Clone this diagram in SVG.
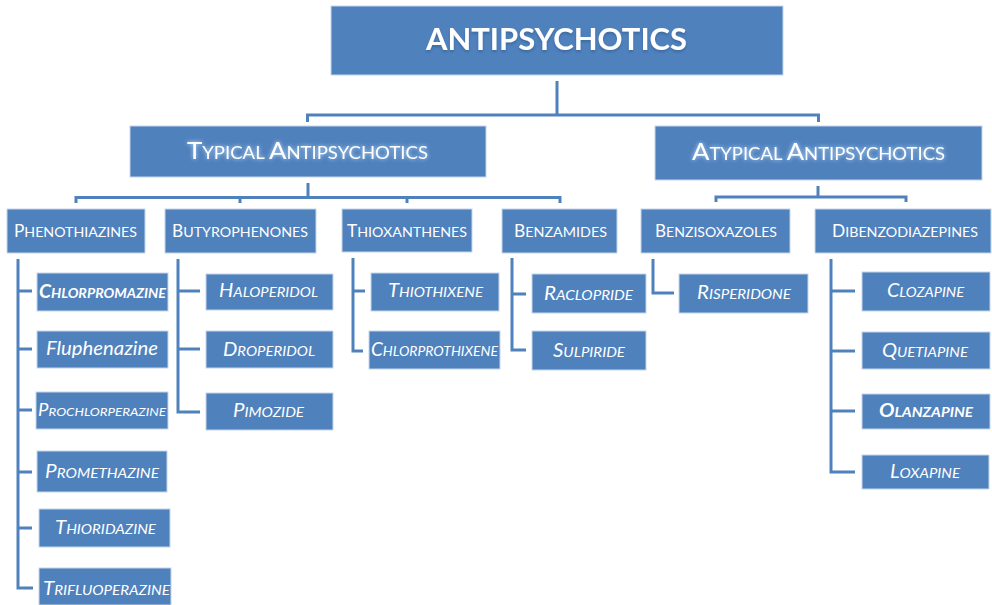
<svg xmlns="http://www.w3.org/2000/svg" width="992" height="605" viewBox="0 0 992 605">
<defs>
<style>
.box{fill:#4F81BD;stroke:#c5d6ec;stroke-width:1}
.ln{fill:none;stroke:#4F81BD;stroke-width:3;stroke-linecap:butt;stroke-linejoin:miter}
text{font-family:Lato,"Open Sans","Liberation Sans",sans-serif;fill:#ffffff}
.t0{font-size:31px;font-weight:bold}
.t1{font-size:17px}
.t1 .c{font-size:23.7px}
.t2{font-size:14px}
.t2 .c{font-size:17px}
.t3{font-size:13.8px;font-style:italic}
.t3 .c{font-size:18.7px}
.b{font-weight:bold}
</style>
<filter id="glow" x="-10%" y="-40%" width="120%" height="180%">
<feGaussianBlur in="SourceAlpha" stdDeviation="2.2" result="bl"/>
<feFlood flood-color="#cfe8ff" flood-opacity="0.9"/>
<feComposite in2="bl" operator="in" result="g"/>
<feMerge><feMergeNode in="g"/><feMergeNode in="SourceGraphic"/></feMerge>
</filter>
<filter id="soft" x="-5%" y="-20%" width="110%" height="160%">
<feGaussianBlur in="SourceAlpha" stdDeviation="1.2" result="bl"/>
<feOffset in="bl" dx="0" dy="1.5" result="o"/>
<feFlood flood-color="#1f3f66" flood-opacity="0.35"/>
<feComposite in2="o" operator="in" result="s"/>
<feMerge><feMergeNode in="s"/><feMergeNode in="SourceGraphic"/></feMerge>
</filter>
</defs>

<g id="connectors">
<path class="ln" d="M557,81 V115 M307.5,122 V115 H818.5 V122"/>
<path class="ln" d="M308,183 V197.5 M76,203 V197.5 H560 V203 M240,197.5 V203 M407,197.5 V203"/>
<path class="ln" d="M818,186 V197 M716,202 V197 H906 V202"/>
<path class="ln" d="M18,259 V588 H33 M18,291 H32 M18,349 H32 M18,410 H32 M18,472 H32 M18,528 H32"/>
<path class="ln" d="M178,259 V412 H200 M178,291 H200 M178,349 H200"/>
<path class="ln" d="M353,258 V351 H363 M353,291 H365"/>
<path class="ln" d="M512,258 V350 H526 M512,294 H526"/>
<path class="ln" d="M653,259 V293 H674"/>
<path class="ln" d="M831,259 V472 H855 M831,291 H855 M831,351 H855 M831,411 H855"/>
</g>

<g id="antipsychotics">
<rect class="box" x="331" y="6" width="452" height="69"/>
<text class="t0" x="426" y="50" textLength="261" lengthAdjust="spacingAndGlyphs" filter="url(#soft)">ANTIPSYCHOTICS</text>
</g>

<g id="typical">
<rect class="box" x="130" y="126" width="356" height="51"/>
<text class="t1" x="187" y="159" textLength="241" lengthAdjust="spacingAndGlyphs" filter="url(#glow)"><tspan class="c">T</tspan>YPICAL <tspan class="c">A</tspan>NTIPSYCHOTICS</text>
</g>

<g id="atypical">
<rect class="box" x="655" y="126" width="327" height="54"/>
<text class="t1" x="692" y="160" textLength="253" lengthAdjust="spacingAndGlyphs" filter="url(#glow)"><tspan class="c">A</tspan>TYPICAL <tspan class="c">A</tspan>NTIPSYCHOTICS</text>
</g>

<g id="phenothiazines">
<rect class="box" x="7" y="209" width="138" height="44"/>
<text class="t2" x="14" y="237" textLength="123" lengthAdjust="spacingAndGlyphs"><tspan class="c">P</tspan>HENOTHIAZINES</text>
</g>
<g id="butyrophenones">
<rect class="box" x="165" y="209" width="151" height="44"/>
<text class="t2" x="172" y="236.5" textLength="136" lengthAdjust="spacingAndGlyphs"><tspan class="c">B</tspan>UTYROPHENONES</text>
</g>
<g id="thioxanthenes">
<rect class="box" x="342" y="209" width="130" height="43"/>
<text class="t2" x="347" y="236.5" textLength="120" lengthAdjust="spacingAndGlyphs"><tspan class="c">T</tspan>HIOXANTHENES</text>
</g>
<g id="benzamides">
<rect class="box" x="502" y="209" width="115" height="44"/>
<text class="t2" x="514" y="237" textLength="93" lengthAdjust="spacingAndGlyphs"><tspan class="c">B</tspan>ENZAMIDES</text>
</g>
<g id="benzisoxazoles">
<rect class="box" x="641" y="209" width="149" height="44"/>
<text class="t2" x="655" y="237" textLength="122" lengthAdjust="spacingAndGlyphs"><tspan class="c">B</tspan>ENZISOXAZOLES</text>
</g>
<g id="dibenzodiazepines">
<rect class="box" x="815" y="209" width="176" height="44"/>
<text class="t2" x="832" y="237" textLength="146" lengthAdjust="spacingAndGlyphs"><tspan class="c">D</tspan>IBENZODIAZEPINES</text>
</g>

<g id="chlorpromazine">
<rect class="box" x="37" y="273" width="131" height="38"/>
<text class="t3 b" x="39" y="298" textLength="127" lengthAdjust="spacingAndGlyphs"><tspan class="c">C</tspan>HLORPROMAZINE</text>
</g>
<g id="fluphenazine">
<rect class="box" x="37" y="331" width="131" height="37"/>
<text class="t3" x="46" y="355" style="font-size:18.7px" textLength="112" lengthAdjust="spacingAndGlyphs">Fluphenazine</text>
</g>
<g id="prochlorperazine">
<rect class="box" x="36" y="392" width="132" height="37"/>
<text class="t3" x="38" y="416" style="font-size:12px" textLength="128" lengthAdjust="spacingAndGlyphs"><tspan class="c" style="font-size:16.7px">P</tspan>ROCHLORPERAZINE</text>
</g>
<g id="promethazine">
<rect class="box" x="37" y="451" width="130" height="41"/>
<text class="t3" x="45" y="478" textLength="114" lengthAdjust="spacingAndGlyphs"><tspan class="c">P</tspan>ROMETHAZINE</text>
</g>
<g id="thioridazine">
<rect class="box" x="39" y="509" width="131" height="38"/>
<text class="t3" x="55" y="534" textLength="101" lengthAdjust="spacingAndGlyphs"><tspan class="c">T</tspan>HIORIDAZINE</text>
</g>
<g id="trifluoperazine">
<rect class="box" x="39" y="568" width="132" height="37"/>
<text class="t3" x="43" y="595" textLength="127" lengthAdjust="spacingAndGlyphs"><tspan class="c">T</tspan>RIFLUOPERAZINE</text>
</g>

<g id="haloperidol">
<rect class="box" x="206" y="274" width="127" height="36"/>
<text class="t3" x="219" y="297" textLength="99" lengthAdjust="spacingAndGlyphs"><tspan class="c">H</tspan>ALOPERIDOL</text>
</g>
<g id="droperidol">
<rect class="box" x="206" y="331" width="127" height="37"/>
<text class="t3" x="223" y="356" textLength="92" lengthAdjust="spacingAndGlyphs"><tspan class="c">D</tspan>ROPERIDOL</text>
</g>
<g id="pimozide">
<rect class="box" x="206" y="393" width="127" height="37"/>
<text class="t3" x="233" y="417" textLength="71" lengthAdjust="spacingAndGlyphs"><tspan class="c">P</tspan>IMOZIDE</text>
</g>

<g id="thiothixene">
<rect class="box" x="371" y="273" width="128" height="38"/>
<text class="t3" x="388" y="297" textLength="95" lengthAdjust="spacingAndGlyphs"><tspan class="c">T</tspan>HIOTHIXENE</text>
</g>
<g id="chlorprothixene">
<rect class="box" x="369" y="331" width="131" height="38"/>
<text class="t3" x="371" y="356" textLength="127" lengthAdjust="spacingAndGlyphs"><tspan class="c">C</tspan>HLORPROTHIXENE</text>
</g>

<g id="raclopride">
<rect class="box" x="532" y="274" width="114" height="39"/>
<text class="t3" x="544" y="300" textLength="89" lengthAdjust="spacingAndGlyphs"><tspan class="c">R</tspan>ACLOPRIDE</text>
</g>
<g id="sulpiride">
<rect class="box" x="532" y="331" width="114" height="39"/>
<text class="t3" x="553" y="357" textLength="72" lengthAdjust="spacingAndGlyphs"><tspan class="c">S</tspan>ULPIRIDE</text>
</g>

<g id="risperidone">
<rect class="box" x="679" y="274" width="129" height="39"/>
<text class="t3" x="697" y="299" textLength="94" lengthAdjust="spacingAndGlyphs"><tspan class="c">R</tspan>ISPERIDONE</text>
</g>

<g id="clozapine">
<rect class="box" x="862" y="272" width="128" height="39"/>
<text class="t3" x="887" y="297" textLength="77" lengthAdjust="spacingAndGlyphs"><tspan class="c">C</tspan>LOZAPINE</text>
</g>
<g id="quetiapine">
<rect class="box" x="862" y="332" width="128" height="37"/>
<text class="t3" x="882" y="357" textLength="86" lengthAdjust="spacingAndGlyphs"><tspan class="c">Q</tspan>UETIAPINE</text>
</g>
<g id="olanzapine">
<rect class="box" x="862" y="394" width="128" height="35"/>
<text class="t3 b" x="879" y="417" textLength="94" lengthAdjust="spacingAndGlyphs"><tspan class="c">O</tspan>LANZAPINE</text>
</g>
<g id="loxapine">
<rect class="box" x="862" y="455" width="127" height="34"/>
<text class="t3" x="890" y="478" textLength="70" lengthAdjust="spacingAndGlyphs"><tspan class="c">L</tspan>OXAPINE</text>
</g>
</svg>
